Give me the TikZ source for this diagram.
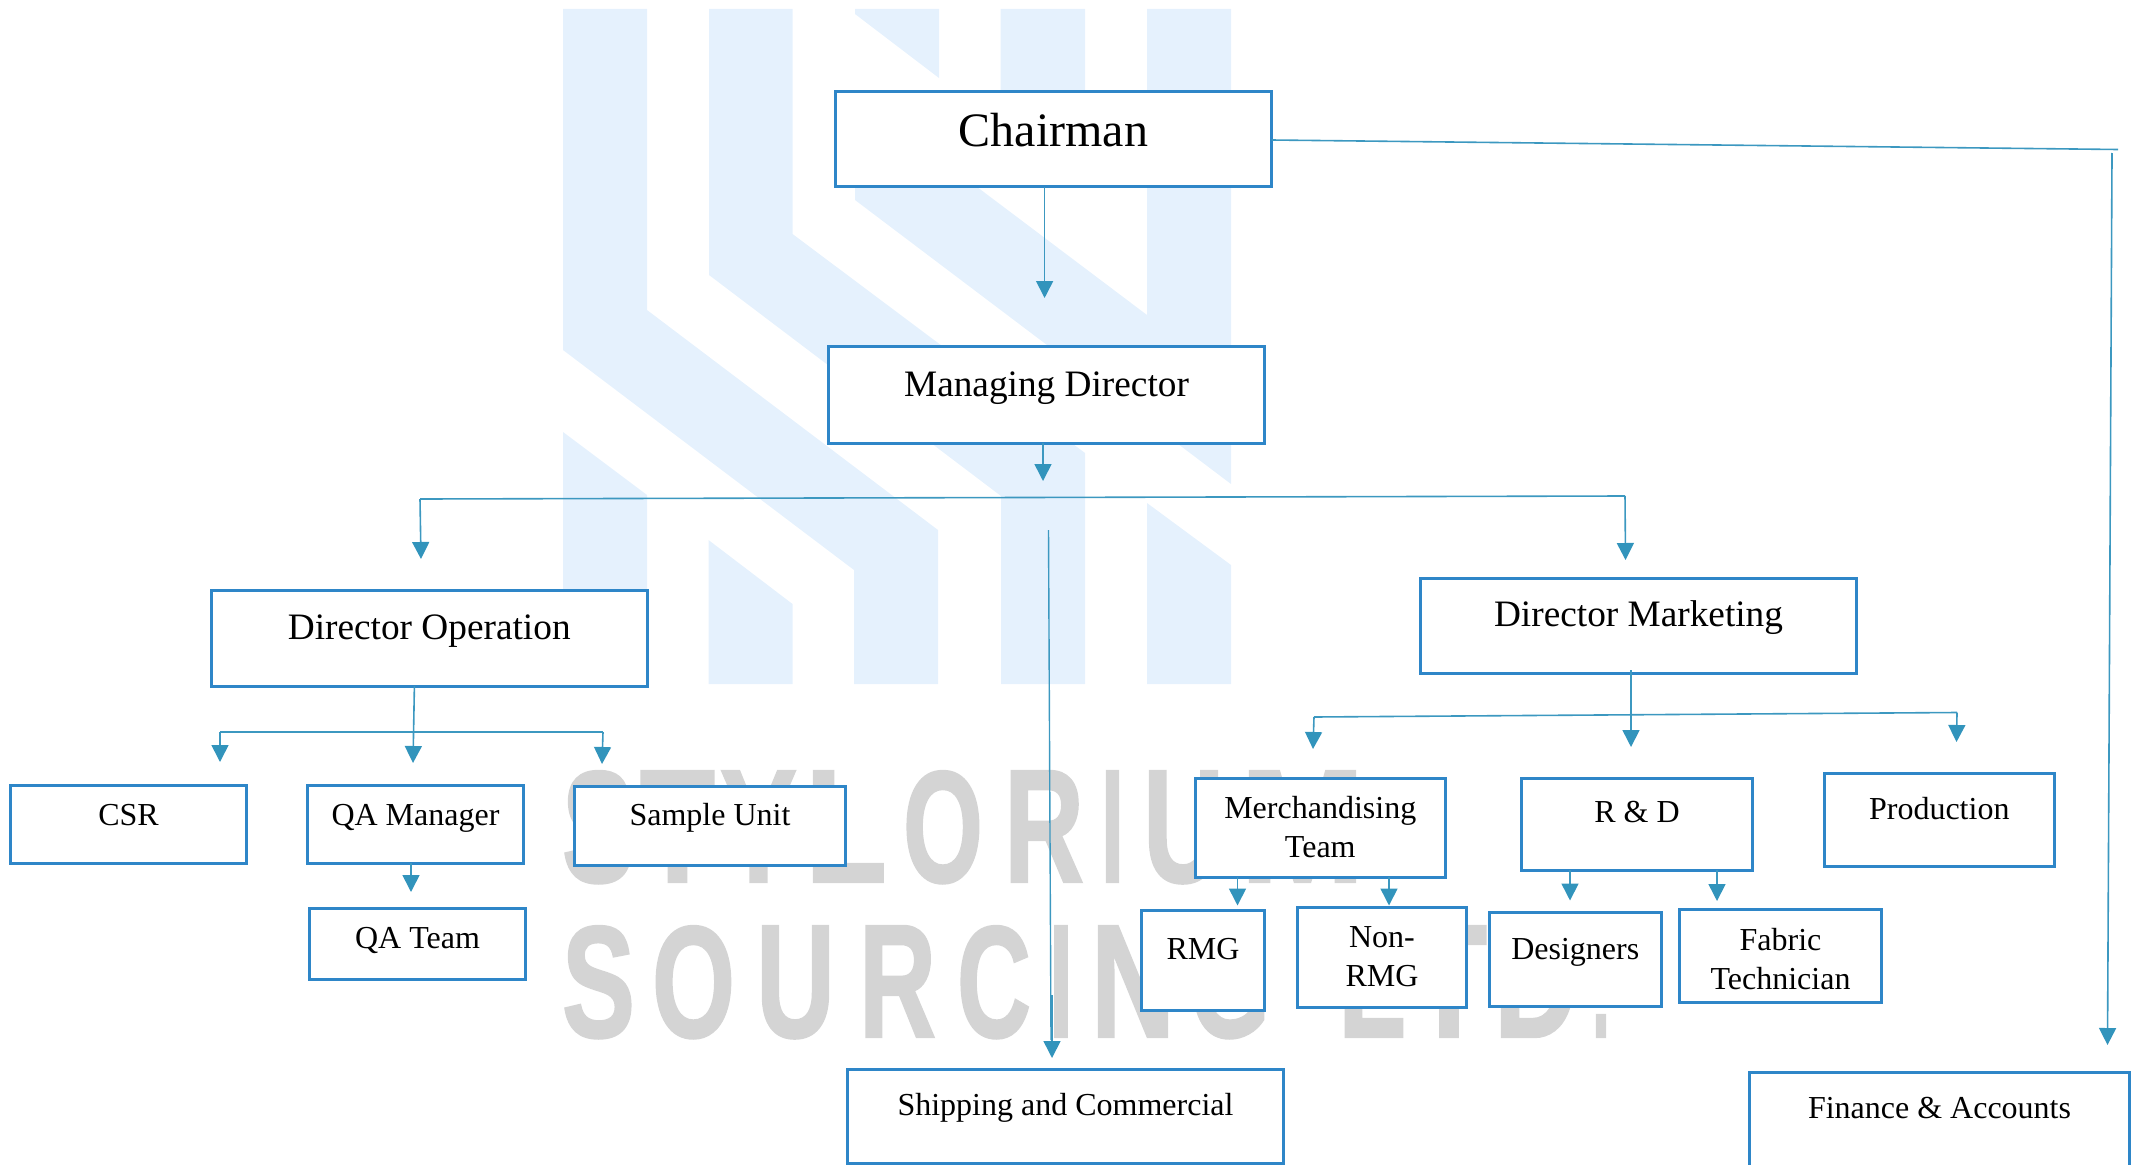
\documentclass[tikz,border=0pt]{standalone}
\usepackage{fontspec}
\usepackage{graphicx}
\setmainfont{Liberation Serif}
\newfontfamily\wmfont[FakeBold=1.5]{Liberation Sans}
\usetikzlibrary{arrows.meta}
\definecolor{wmblue}{HTML}{E5F1FD}
\definecolor{wmgrey}{HTML}{D4D4D4}
\definecolor{boxline}{HTML}{2E86C8}
\definecolor{conn}{HTML}{3C98C0}
\definecolor{tipc}{HTML}{3294BC}
\tikzset{
  orgbox/.style={draw=boxline,line width=3pt,fill=white,inner sep=0pt,outer sep=0pt},
  orgtext/.style={anchor=base,inner sep=0pt,outer sep=0pt,align=center,text=black},
  wmtext/.style={anchor=base west,inner sep=0pt,outer sep=0pt,text=wmgrey},
  wmshape/.style={fill=wmblue,draw=none},
  link/.style={draw=conn,line width=1.6pt},
  arrowlink/.style={link,-{Triangle[width=17pt,length=17pt,color=tipc]}}
}
% name, x1, y1, x2, y2, font size, baseline y, text
\newcommand\orgnode[8]{%
  \pgfmathsetmacro\bw{#4-#2}\pgfmathsetmacro\bh{#5-#3}%
  \pgfmathsetmacro\bx{(#2+#4)/2}\pgfmathsetmacro\by{(#3+#5)/2}%
  \node[orgbox,minimum width=\bw pt,minimum height=\bh pt] (#1) at (\bx,\by) {};
  \node[orgtext,font=\fontsize{#6}{39.5}\selectfont] (#1-t) at (\bx,#7) {#8};
}
\newcommand\wmlet[3]{\makebox[#1pt][l]{\resizebox{#2pt}{111pt}{#3}}}
\begin{document}
\begin{tikzpicture}[x=1pt,y=-1pt]
\useasboundingbox (0,0) rectangle (2138,1164);
% watermark logo
\fill[wmshape] (563,9)--(647,9)--(647,310)--(938,530)--(938,684)--(854,684)--(854,570)--(563,350)--cycle;
\fill[wmshape] (709,9)--(792.5,9)--(792.5,234)--(1085,453)--(1085,684)--(1001,684)--(1001,496)--(709,275)--cycle;
\fill[wmshape] (855,9)--(939,9)--(939,78)--(855,14)--cycle;
\fill[wmshape] (1000.5,9)--(1085,9)--(1085,170)--(1000.5,150)--cycle;
\fill[wmshape] (855,95)--(1147,315)--(1147,9)--(1231,9)--(1231,484)--(855,200)--cycle;
\fill[wmshape] (563,432)--(647,495)--(647,684)--(563,684)--cycle;
\fill[wmshape] (708.5,540)--(792.5,604)--(792.5,684)--(708.5,684)--cycle;
\fill[wmshape] (1147,503)--(1231,565)--(1231,684)--(1147,684)--cycle;
% watermark text
\node[wmtext,font=\wmfont\bfseries\fontsize{100}{100}\selectfont] (wm1) at (562,882) {\wmlet{78}{73}{S}\wmlet{80}{75}{T}\wmlet{85}{77}{Y}\wmlet{98}{82}{L}\wmlet{101}{80}{O}\wmlet{97}{80}{R}\wmlet{42}{23}{I}\wmlet{97}{81}{U}\wmlet{125}{125}{M}};
\node[wmtext,font=\wmfont\bfseries\fontsize{100}{100}\selectfont] (wm2) at (562,1037) {\wmlet{90}{73}{S}\wmlet{104}{83}{O}\wmlet{103}{79}{U}\wmlet{98}{77}{R}\wmlet{92}{74}{C}\wmlet{42}{24}{I}\wmlet{98}{84}{N}\wmlet{149}{81}{G}\wmlet{73}{68}{L}\wmlet{83}{76}{T}\wmlet{98}{84}{D}\makebox[18pt][l]{\resizebox{18pt}{22pt}{.}}};
% boxes
\orgnode{chair}{835.5}{91.5}{1271.5}{186.5}{48}{146}{Chairman}
\orgnode{md}{828.5}{346.5}{1264.5}{443}{37.3}{396}{Managing Director}
\orgnode{dop}{211.5}{590}{647}{686}{37.3}{639}{Director Operation}
\orgnode{dmk}{1420.5}{578}{1856.5}{673.4}{37.3}{626.5}{Director Marketing}
\orgnode{csr}{10.5}{785.5}{246.5}{863}{32}{825.6}{CSR}
\orgnode{qam}{307.5}{785.5}{523.5}{863}{32}{825.6}{QA Manager}
\orgnode{sam}{574.5}{786.5}{845.5}{865}{32}{825.6}{Sample Unit}
\orgnode{qat}{309.5}{908.5}{525.5}{979}{32}{948}{QA Team}
\orgnode{mer}{1195.5}{778.5}{1445}{877}{32}{857.5}{Merchandising\\Team}
\orgnode{rnd}{1521.5}{778.5}{1752.5}{870}{32}{822.5}{R \& D}
\orgnode{pro}{1824}{773.5}{2054.5}{866}{32}{819}{Production}
\orgnode{rmg}{1141.5}{910.5}{1264.5}{1010}{32}{959}{RMG}
\orgnode{non}{1297.5}{907.5}{1466.5}{1007}{32}{986.5}{Non-\\RMG}
\orgnode{des}{1489}{912.5}{1661.5}{1006}{32}{959}{Designers}
\orgnode{fab}{1679.5}{909.5}{1881.5}{1002}{32}{989.5}{Fabric\\Technician}
\orgnode{shp}{847.5}{1069}{1283.5}{1163}{32}{1115}{Shipping and Commercial}
\orgnode{fin}{1749.5}{1072}{2129.5}{1172}{32}{1118}{Finance \& Accounts}
% connector coordinates
\coordinate (a1) at (1044.6,298);
\coordinate (a2) at (1043,481);
\coordinate (hl) at (420,499);
\coordinate (hr) at (1625,496);
\coordinate (al) at (421,559);
\coordinate (ar) at (1625.5,560);
\coordinate (sh0) at (1048.5,530);
\coordinate (sh1) at (1051,1040);
\coordinate (sh2) at (1052,995);
\coordinate (sh3) at (1052,1058);
\coordinate (c0) at (1272,140);
\coordinate (c1) at (2118,149.5);
\coordinate (c2) at (2112,153);
\coordinate (c3) at (2107.5,1045);
\coordinate (o0) at (414.4,686);
\coordinate (o1) at (413,763);
\coordinate (ol) at (220,732);
\coordinate (or) at (603,732);
\coordinate (o2) at (220,762);
\coordinate (o3) at (602,764);
\coordinate (q1) at (411,892);
\coordinate (m0) at (1631,670);
\coordinate (m1) at (1631,747);
\coordinate (ml) at (1314,717);
\coordinate (mr) at (1957,712.5);
\coordinate (m2) at (1313,749);
\coordinate (m3) at (1956.5,742);
\coordinate (e1) at (1237.5,905.5);
\coordinate (e2) at (1389,905.5);
\coordinate (r1) at (1570,900.5);
\coordinate (r2) at (1717,901);
% connectors
\draw[arrowlink] (chair.south -| a1) -- (a1);
\draw[arrowlink] (md.south -| a2) -- (a2);
\draw[link] (hl) -- (hr);
\draw[arrowlink] (hl) -- (al);
\draw[arrowlink] (hr) -- (ar);
\draw[link,line width=1.4pt] (sh0) -- (sh1);
\draw[arrowlink] (sh2) -- (sh3);
\draw[link] (chair.east |- c0) -- (c1);
\draw[arrowlink] (c2) -- (c3);
\draw[arrowlink] (dop.south -| o0) -- (o1);
\draw[link] (ol) -- (or);
\draw[arrowlink] (ol) -- (o2);
\draw[arrowlink] (or) -- (o3);
\draw[arrowlink] (qam.south -| q1) -- (q1);
\draw[arrowlink] (m0) -- (m1);
\draw[link] (ml) -- (mr);
\draw[arrowlink] (ml) -- (m2);
\draw[arrowlink] (mr) -- (m3);
\draw[arrowlink] (mer.south -| e1) -- (e1);
\draw[arrowlink] (mer.south -| e2) -- (e2);
\draw[arrowlink] (rnd.south -| r1) -- (r1);
\draw[arrowlink] (rnd.south -| r2) -- (r2);
\end{tikzpicture}
\end{document}
